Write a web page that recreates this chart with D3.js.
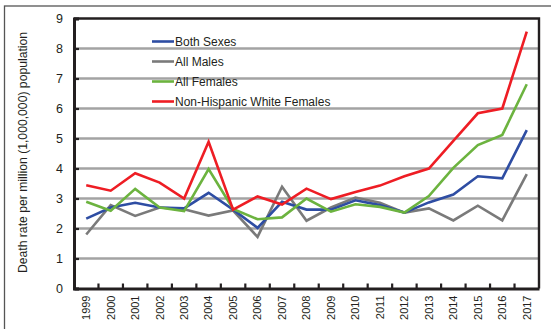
<!DOCTYPE html>
<html>
<head>
<meta charset="utf-8">
<script src="https://cdn.jsdelivr.net/npm/d3@7"></script>
<style>
  html, body { margin: 0; padding: 0; background: #fff; }
  svg { display: block; font-family: "Liberation Sans", Arial, sans-serif; }
</style>
</head>
<body>
<svg id="chart" width="551" height="329"></svg>
<script>
// Death rates per million population, 1999-2017
const years = ["1999","2000","2001","2002","2003","2004","2005","2006","2007","2008","2009","2010","2011","2012","2013","2014","2015","2016","2017"];
const bothSexes = [2.33,2.70,2.86,2.70,2.67,3.19,2.63,2.02,2.89,2.63,2.63,2.94,2.78,2.53,2.87,3.13,3.74,3.67,5.28];
const allMales = [1.80,2.78,2.42,2.70,2.64,2.43,2.60,1.72,3.39,2.26,2.70,3.03,2.86,2.53,2.67,2.27,2.76,2.27,3.81];
const allFemales = [2.89,2.59,3.32,2.70,2.58,3.98,2.65,2.31,2.37,3.00,2.56,2.81,2.72,2.53,3.08,4.02,4.78,5.12,6.81];
const nhWhiteFemales = [3.44,3.26,3.84,3.53,3.00,4.89,2.63,3.07,2.80,3.33,2.98,3.22,3.43,3.74,4.00,4.92,5.84,6.00,8.56];
const seriesNames = ["Both Sexes","All Males","All Females","Non-Hispanic White Females"];
const seriesColors = ["#2e4da3","#7a7a7a","#6cb33f","#ee1d24"];
const yTicks = [0,1,2,3,4,5,6,7,8,9];
const yTitle = "Death rate per million (1,000,000) population";

const svg = d3.select("#chart");
const plot = { left: 74, right: 539, top: 18.5, bottom: 288.5 };

// outer frame
svg.append("rect")
  .attr("x", 4.5).attr("y", 6)
  .attr("width", 600).attr("height", 400)
  .attr("fill", "none").attr("stroke", "#555").attr("stroke-width", 1.3);

const x = d3.scaleBand().domain(years).range([plot.left, plot.right]);
const y = d3.scaleLinear().domain([0, 9]).range([plot.bottom, plot.top]);

// horizontal gridlines
svg.append("g")
  .selectAll("line")
  .data(yTicks.filter(d => d > 0 && d < 9))
  .join("line")
  .attr("x1", plot.left).attr("x2", plot.right)
  .attr("y1", d => y(d)).attr("y2", d => y(d))
  .attr("stroke", "#a3a3a3").attr("stroke-width", 2.6);

// plot border (top/right)
svg.append("path")
  .attr("d", `M${plot.left},${plot.top}H${plot.right}V${plot.bottom}`)
  .attr("fill", "none").attr("stroke", "#231f20").attr("stroke-width", 2.4);

// y axis
const yAxis = d3.axisLeft(y).tickValues(yTicks).tickSize(-5).tickPadding(11);
const gy = svg.append("g").attr("transform", `translate(${plot.left},0)`).call(yAxis);
gy.select(".domain").attr("stroke", "#231f20").attr("stroke-width", 3);
gy.selectAll(".tick line").attr("stroke", "#231f20").attr("stroke-width", 2.2);
gy.selectAll(".tick text").attr("font-size", 12.5).attr("fill", "#231f20")
  .attr("font-family", "'Liberation Sans', Arial, sans-serif");

// x axis: ticks between categories, pointing up into the plot
const xAxis = d3.axisBottom(x).tickSize(0).tickPadding(6);
const gx = svg.append("g").attr("transform", `translate(0,${plot.bottom})`).call(xAxis);
gx.select(".domain").attr("stroke", "#231f20").attr("stroke-width", 3);
gx.selectAll(".tick text")
  .attr("font-size", 11).attr("fill", "#231f20")
  .attr("font-family", "'Liberation Sans', Arial, sans-serif")
  .attr("transform", "rotate(-90)")
  .attr("text-anchor", "end")
  .attr("dy", "0.35em")
  .attr("x", -7).attr("y", 0);
svg.append("g").selectAll("line")
  .data(years.slice(1))
  .join("line")
  .attr("x1", d => x(d)).attr("x2", d => x(d))
  .attr("y1", plot.bottom).attr("y2", plot.bottom - 5)
  .attr("stroke", "#231f20").attr("stroke-width", 2.2);

// y axis title
svg.append("text")
  .attr("transform", `translate(23,152.5) rotate(-90)`)
  .attr("text-anchor", "middle")
  .attr("dy", "0.35em")
  .attr("font-size", 12.2)
  .attr("fill", "#231f20")
  .text(yTitle);

// series lines
const allSeries = [bothSexes, allMales, allFemales, nhWhiteFemales];
const line = d3.line()
  .x((d, i) => x(years[i]) + x.bandwidth() / 2)
  .y(d => y(d));
const drawOrder = [1, 0, 2, 3];
svg.append("g")
  .selectAll("path")
  .data(drawOrder)
  .join("path")
  .attr("d", k => line(allSeries[k]))
  .attr("fill", "none")
  .attr("stroke", k => seriesColors[k])
  .attr("stroke-width", 2.6)
  .attr("stroke-linejoin", "miter");

// legend
const legend = svg.append("g").attr("transform", "translate(152,41.5)");
const item = legend.selectAll("g").data(seriesNames).join("g")
  .attr("transform", (d, i) => `translate(0,${i * 20})`);
item.append("line")
  .attr("x1", 0).attr("x2", 22).attr("y1", 0).attr("y2", 0)
  .attr("stroke", (d, i) => seriesColors[i]).attr("stroke-width", 2.6);
item.append("text")
  .attr("x", 23).attr("y", 0).attr("dy", "0.35em")
  .attr("font-size", 12).attr("fill", "#231f20")
  .text(d => d);
</script>
</body>
</html>
